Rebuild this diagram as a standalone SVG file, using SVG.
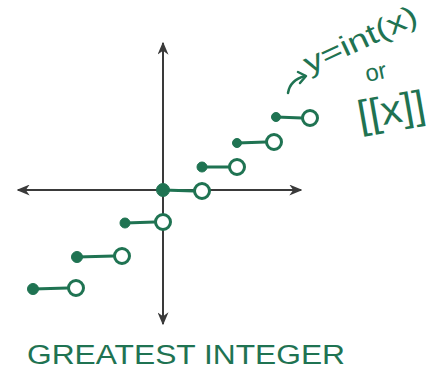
<svg xmlns="http://www.w3.org/2000/svg" width="448" height="373" viewBox="0 0 448 373">
<defs>
<style>
.ax{stroke:#3a3a3a;stroke-width:2;fill:none}
.seg{stroke:#1f7352;stroke-width:3;fill:none;stroke-linecap:round}
.cl{fill:#1f7352;stroke:#1f7352;stroke-width:1}
.op{fill:#fff;stroke:#1f7352;stroke-width:3}
.t{fill:#1f7352;font-family:"Liberation Sans",Arial,sans-serif}
</style>
<marker id="ah" viewBox="0 0 10 10" refX="9" refY="5" markerWidth="13" markerHeight="11" orient="auto-start-reverse" markerUnits="userSpaceOnUse" preserveAspectRatio="none">
<path d="M0,0 L10,5 L0,10 L3,5 Z" fill="#3a3a3a"/>
</marker>
</defs>
<rect width="448" height="373" fill="#fff"/>
<g id="axes">
<line class="ax" x1="18" y1="190" x2="301" y2="190" marker-start="url(#ah)" marker-end="url(#ah)"/>
<line class="ax" x1="163" y1="43" x2="163" y2="324" marker-start="url(#ah)" marker-end="url(#ah)"/>
</g>
<g id="connectors">
<line class="seg" x1="276" y1="117" x2="302" y2="118"/>
<line class="seg" x1="237" y1="143" x2="266" y2="142"/>
<line class="seg" x1="202" y1="167" x2="229" y2="167"/>
<line class="seg" x1="163" y1="190" x2="194" y2="191"/>
<line class="seg" x1="125" y1="223" x2="155" y2="222"/>
<line class="seg" x1="77" y1="257" x2="114" y2="256"/>
<line class="seg" x1="33" y1="289" x2="68" y2="288"/>
</g>
<g id="step1"><circle class="cl" cx="276" cy="117" r="4.5"/><circle class="op" cx="310" cy="118" r="7.5"/></g>
<g id="step2"><circle class="cl" cx="237" cy="143" r="4.5"/><circle class="op" cx="274" cy="142" r="7.5"/></g>
<g id="step3"><circle class="cl" cx="202" cy="167" r="5"/><circle class="op" cx="237" cy="167" r="7.5"/></g>
<g id="step4"><circle class="cl" cx="163" cy="190" r="6.5"/><circle class="op" cx="202" cy="191" r="7.5"/></g>
<g id="step5"><circle class="cl" cx="125" cy="223" r="5"/><circle class="op" cx="163" cy="222" r="7.5"/></g>
<g id="step6"><circle class="cl" cx="77" cy="257" r="5.5"/><circle class="op" cx="122" cy="256" r="7.5"/></g>
<g id="step7"><circle class="cl" cx="33" cy="289" r="5.5"/><circle class="op" cx="76" cy="288" r="7.5"/></g>
<g id="label">
<path d="M288,93 Q290,80 305,76" stroke="#1f7352" stroke-width="2.5" fill="none" stroke-linecap="round"/>
<path d="M298,72 L306,76 L300,83" stroke="#1f7352" stroke-width="2.5" fill="none" stroke-linecap="round" stroke-linejoin="round"/>
<text class="t" x="309" y="74" font-size="29" transform="rotate(-25 309 74)" textLength="122" lengthAdjust="spacingAndGlyphs">y=int(x)</text>
<text class="t" x="367" y="82" font-size="24" transform="rotate(-12 367 82)">or</text>
<text class="t" x="360" y="129" font-size="40" transform="rotate(-10 360 129)" textLength="68" lengthAdjust="spacingAndGlyphs">[[x]]</text>
</g>
<g id="title">
<text class="t" x="27" y="364" font-size="27" textLength="318" lengthAdjust="spacingAndGlyphs">GREATEST INTEGER</text>
</g>
</svg>
